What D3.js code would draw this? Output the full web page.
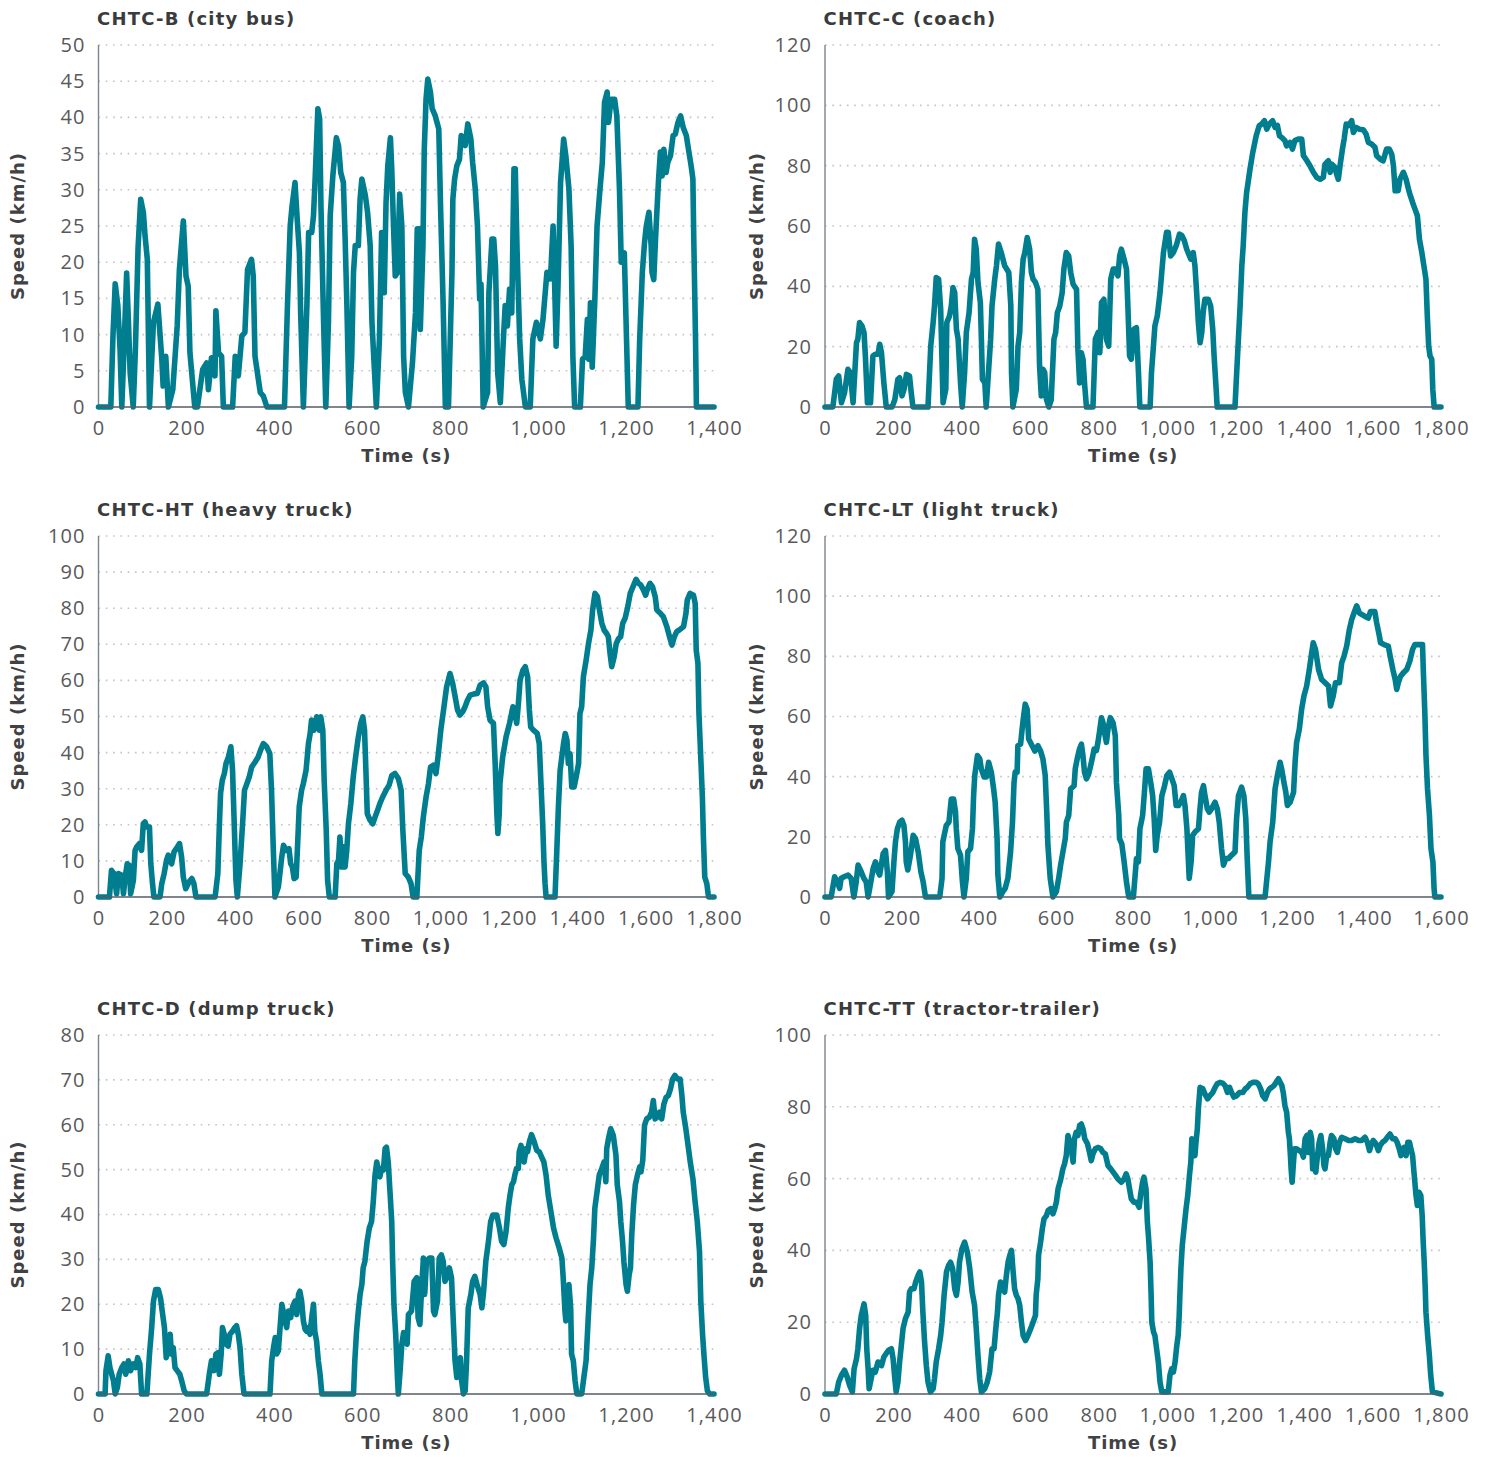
<!DOCTYPE html>
<html>
<head>
<meta charset="utf-8">
<script src="https://cdn.jsdelivr.net/npm/d3@7"></script>
<style>
  html, body { margin: 0; padding: 0; background: #ffffff; }
  svg { display: block; }
</style>
</head>
<body>
<svg id="chart" width="1486" height="1457"></svg>
<script>
// Chinese heavy-duty commercial vehicle test cycles (CHTC): speed vs time, [t (s), speed (km/h)]

const titles = [
  "CHTC-B (city bus)", "CHTC-C (coach)",
  "CHTC-HT (heavy truck)", "CHTC-LT (light truck)",
  "CHTC-D (dump truck)", "CHTC-TT (tractor-trailer)"
];

const xTickSets = [
  [0, 200, 400, 600, 800, 1000, 1200, 1400],
  [0, 200, 400, 600, 800, 1000, 1200, 1400, 1600, 1800],
  [0, 200, 400, 600, 800, 1000, 1200, 1400, 1600, 1800],
  [0, 200, 400, 600, 800, 1000, 1200, 1400, 1600],
  [0, 200, 400, 600, 800, 1000, 1200, 1400],
  [0, 200, 400, 600, 800, 1000, 1200, 1400, 1600, 1800]
];

const yTickSets = [
  [0, 5, 10, 15, 20, 25, 30, 35, 40, 45, 50],
  [0, 20, 40, 60, 80, 100, 120],
  [0, 10, 20, 30, 40, 50, 60, 70, 80, 90, 100],
  [0, 20, 40, 60, 80, 100, 120],
  [0, 10, 20, 30, 40, 50, 60, 70, 80],
  [0, 20, 40, 60, 80, 100]
];

const cityBus = [[0,0],[28,0],[33,10],[38,17],[44,14],[49,8],[53,0],[58,8],[64,18.5],[68,12],[72,4.7],[79,0],[84,8],[90,22],[96,28.7],[102,26.9],[106,23.6],[111,20.4],[116,0],[125,11.7],[135,14.2],[144,6.6],[147,2.9],[153,7],[159,0],[169,2.4],[179,11.2],[184,19],[193,25.7],[199,18.1],[204,16.7],[208,7.5],[219,0],[225,0],[237,5.2],[246,6.1],[250,2.4],[257,6.8],[265,4.3],[267,13.3],[273,7.5],[280,7],[284,0],[305,0],[311,7],[318,4.3],[326,9.8],[333,10.3],[339,19],[348,20.4],[352,18.1],[356,7],[368,2],[375,1.5],[383,0],[423,0],[430,14.4],[436,25],[440,27.6],[447,31],[452,25.9],[457,21.3],[460,12.6],[466,0],[474,14],[478,24.1],[485,24.1],[489,26.4],[493,31.9],[499,41.2],[503,39.8],[506,27.8],[512,11.7],[517,0],[523,11.7],[527,26.4],[533,31.9],[541,37.2],[546,36.1],[551,32.4],[557,31],[561,23.2],[565,14],[570,0],[576,7],[580,18.6],[584,22.3],[591,22.3],[595,28.7],[599,31.5],[607,29.2],[612,26.9],[618,22.3],[622,11.7],[632,0],[639,9.4],[644,24.1],[650,15.8],[654,28.2],[658,33.3],[664,37.2],[667,32.9],[671,25],[675,18.1],[680,18.6],[685,29.4],[690,25],[694,7],[698,2],[705,0],[714,6],[721,13],[725,24.6],[729,24.6],[732,10.7],[738,22.3],[741,35.6],[745,42.5],[749,45.3],[755,43.5],[759,41.2],[766,40.2],[774,38.4],[778,27.8],[784,14],[789,0],[796,0],[804,18.6],[806,28.7],[810,31.5],[815,33.3],[821,34.2],[825,37.5],[830,37],[834,36.1],[840,39.1],[847,37],[851,33.8],[857,30.1],[862,25],[867,14.9],[870,17],[875,0],[885,2],[888,15.8],[895,23.2],[899,23.2],[903,19.5],[908,4.7],[914,0.6],[921,9.4],[925,14],[930,11.2],[935,16.3],[940,13],[945,32.9],[948,32.9],[952,21.8],[958,9.4],[963,3.8],[971,0],[982,0],[988,9.4],[996,11.7],[1005,9.4],[1011,12.1],[1020,18.6],[1028,17.7],[1034,25],[1038,15.8],[1041,8.4],[1045,16.3],[1051,31],[1058,37],[1063,34.7],[1070,30.1],[1075,22.3],[1079,7],[1083,0],[1096,0],[1101,6.6],[1107,7],[1112,12.1],[1115,6.6],[1119,14.4],[1123,5.5],[1129,14.9],[1134,25],[1140,29.6],[1146,33.8],[1151,42.1],[1157,43.5],[1160,39.3],[1166,42.5],[1174,42.5],[1179,40.2],[1185,30.1],[1189,20],[1196,21.3],[1201,9.4],[1205,0],[1227,0],[1231,9.4],[1237,18.6],[1242,22.7],[1246,25],[1252,26.9],[1257,22.3],[1259,18.6],[1263,17.6],[1267,23.2],[1270,26.9],[1274,31.5],[1278,35.2],[1282,31.9],[1286,35.6],[1291,32.4],[1295,33.8],[1301,34.7],[1307,37.5],[1312,37.7],[1318,39.3],[1324,40.2],[1330,38.6],[1337,37.5],[1343,35.2],[1348,33.3],[1352,31.5],[1354,23.2],[1358,9.4],[1360,0],[1400,0]];

const coach = [[0,0],[23,0],[33,9.2],[40,10.3],[48,1.4],[57,4.7],[67,12.5],[74,11.4],[82,1.4],[92,21.3],[96,22.5],[101,28],[108,26.9],[114,24.7],[118,16.9],[124,1.4],[133,1.4],[140,16.9],[147,17.5],[155,17.5],[160,20.8],[165,18],[172,8],[179,0],[196,0],[204,2.4],[213,9.2],[218,9.7],[225,3.7],[231,5.9],[238,10.8],[247,10.3],[252,4.7],[257,0],[301,0],[309,20.2],[316,28],[320,33.5],[325,42.9],[332,42.4],[338,32.4],[345,1.4],[353,5.9],[356,28],[364,30.2],[369,33.5],[374,39.6],[379,37.9],[384,25.8],[389,22.5],[396,8],[401,0],[408,11.4],[413,24.7],[421,31.3],[428,42.4],[433,44.6],[437,55.6],[442,52.3],[447,41.3],[454,34.6],[457,22.5],[460,9.2],[467,8],[471,0],[484,22.5],[488,33.5],[496,42.4],[501,46.8],[507,54],[515,51.2],[525,46.8],[537,44.6],[543,33.5],[545,11.4],[549,0],[559,5.9],[564,20.2],[569,24.7],[574,41.3],[579,49],[584,51.2],[591,56.2],[598,52.3],[603,44.6],[608,42.4],[615,41.3],[622,39],[627,13.6],[632,3.7],[637,12.5],[642,11.4],[647,2.6],[654,0],[661,2.4],[669,22.5],[674,24.7],[679,31.3],[686,33.5],[693,37.9],[698,45.7],[705,51.2],[712,50.1],[718,44.6],[725,40.7],[735,39],[739,19.1],[744,8],[749,18],[754,15.8],[759,7],[764,0],[783,0],[790,22.5],[798,24.7],[803,18],[808,34.6],[815,35.7],[822,22.5],[829,20.2],[835,42.4],[842,45.7],[849,45.7],[856,43.5],[861,50.1],[866,52.3],[874,49],[881,45.7],[885,33.5],[890,16.9],[895,15.8],[903,25.8],[910,26.3],[916,11.4],[920,0],[950,0],[954,11.4],[964,26.9],[971,30.2],[979,37.9],[984,44.6],[989,51.2],[998,57.9],[1003,57.9],[1010,50.1],[1018,51.2],[1026,53.4],[1036,57.3],[1043,56.8],[1050,55.1],[1057,52.3],[1065,50.1],[1069,49],[1076,51.2],[1081,46.8],[1086,37.9],[1091,28],[1096,21.3],[1101,24.7],[1105,31.3],[1110,35.7],[1120,35.7],[1127,33.5],[1133,25.8],[1137,16.9],[1143,5.9],[1146,0],[1198,0],[1203,11.4],[1208,22.5],[1213,33.5],[1218,46.8],[1222,53.4],[1227,64.5],[1232,71.1],[1242,78.9],[1250,84.4],[1260,89.9],[1269,93.3],[1276,93.8],[1284,94.9],[1291,92.1],[1298,93.8],[1308,94.9],[1315,92.7],[1322,93.3],[1328,89.9],[1335,89.3],[1344,88.3],[1349,86.6],[1359,87.7],[1366,85.5],[1373,88.3],[1383,88.8],[1393,88.8],[1398,83.3],[1405,82.2],[1417,80],[1427,77.8],[1437,76.1],[1447,75.5],[1456,76.1],[1461,80.5],[1471,81.6],[1476,77.8],[1481,80.5],[1490,79.4],[1495,77.2],[1500,75.5],[1505,80],[1512,85.5],[1517,88.8],[1523,93.8],[1530,93.3],[1539,94.9],[1544,91],[1552,92.7],[1561,92.1],[1573,91.9],[1581,90.5],[1588,87.7],[1597,87.2],[1607,86.1],[1612,83.3],[1622,82.2],[1631,81.6],[1641,85.5],[1649,85.5],[1656,83.8],[1661,80],[1666,71.7],[1675,71.7],[1680,75.5],[1690,77.8],[1698,75.5],[1705,72.2],[1709,70.6],[1717,67.8],[1724,65.6],[1731,63.4],[1737,55.6],[1744,51.2],[1750,46.8],[1756,42.4],[1760,30.2],[1764,20.2],[1768,16.9],[1773,15.8],[1776,5.9],[1780,0],[1800,0]];

const heavyTruck = [[0,0],[32,0],[38,7.4],[45,6.5],[53,0.9],[58,6.5],[68,6],[73,0.9],[78,5.5],[84,9.2],[90,8.8],[94,0.9],[102,4.6],[107,12.9],[112,13.9],[120,14.8],[126,12.9],[131,20.3],[136,20.8],[141,19.4],[149,19.4],[153,9.2],[158,3.7],[162,0],[180,0],[185,3.7],[192,6.5],[199,10.2],[204,11.6],[214,9.2],[221,12.5],[231,13.9],[237,14.8],[243,11.1],[248,5.5],[255,2.3],[265,4.2],[273,5.1],[279,3.7],[285,0],[341,0],[349,6.5],[353,18.5],[357,28.7],[362,32.3],[368,34.2],[373,37],[380,38.8],[387,41.6],[392,35.1],[396,23.1],[402,4.6],[406,0],[414,9.2],[422,21.3],[427,29.6],[434,31.4],[441,33.3],[448,36],[458,37.4],[467,38.8],[474,40.7],[482,42.5],[492,41.6],[501,39.7],[506,29.6],[511,13.9],[516,0],[526,2.8],[536,11.1],[541,14.3],[550,12.9],[557,13.4],[562,9.2],[567,8.3],[572,5.1],[578,5.5],[582,13.9],[587,25],[594,29.6],[599,31.4],[607,35.1],[614,42.5],[619,45.3],[623,49],[630,46.2],[638,49.9],[646,46.2],[650,49.9],[656,46.2],[660,32.3],[666,18.5],[670,4.6],[675,0],[692,0],[697,9.2],[702,10.2],[706,16.6],[711,8.3],[716,13.9],[721,8.3],[726,12.9],[731,20.3],[738,25.9],[745,33.3],[752,38.8],[760,44.4],[767,48.1],[773,49.9],[778,46.2],[782,35.1],[786,23.1],[794,21.3],[802,20.3],[809,22.2],[816,24],[823,25.9],[831,27.7],[841,29.6],[850,31],[858,33.7],[867,34.2],[877,32.8],[885,29.6],[890,18.5],[897,6.5],[906,5.5],[914,3.7],[920,0],[931,0],[938,12.9],[944,16.6],[950,22.2],[958,27.7],[965,31.4],[971,36],[979,36.5],[987,34.2],[994,39.7],[1001,46.2],[1009,51.8],[1018,58.2],[1028,61.9],[1036,59.1],[1043,55.5],[1050,51.8],[1057,50.4],[1065,51.3],[1072,52.7],[1079,54.5],[1087,55.9],[1097,56.2],[1108,56.4],[1116,58.7],[1126,59.3],[1133,58.2],[1138,52.7],[1145,49],[1155,48.1],[1160,37],[1165,23.1],[1168,17.6],[1172,23.1],[1174,31.4],[1182,38.8],[1192,44.4],[1202,48.1],[1212,52.7],[1218,50.8],[1223,48.1],[1228,53.6],[1233,60.1],[1241,62.8],[1248,63.8],[1255,61],[1260,51.8],[1264,47.1],[1272,46.2],[1283,45.3],[1289,42.5],[1294,31.4],[1299,20.3],[1303,9.2],[1306,3.7],[1309,0],[1335,0],[1340,12],[1345,25],[1350,35.1],[1355,38.8],[1360,42.5],[1365,45.3],[1370,43.4],[1374,37],[1379,39.7],[1384,30.5],[1391,30.5],[1397,33.3],[1404,37],[1408,50.8],[1413,52.7],[1418,61],[1426,65.6],[1433,70.2],[1440,73.9],[1445,79.5],[1452,84.1],[1459,83.2],[1465,79.5],[1472,75.8],[1479,73.9],[1486,73],[1491,72.1],[1496,67.5],[1501,63.8],[1508,66.5],[1514,70.2],[1521,71.6],[1527,72.1],[1533,75.8],[1540,77.2],[1547,80],[1555,84.1],[1565,86.4],[1572,88],[1579,86.9],[1586,86.4],[1594,85],[1600,83.6],[1606,85.5],[1613,86.9],[1620,86],[1628,83.2],[1633,79.5],[1643,78.6],[1652,77.6],[1662,74.9],[1670,72.1],[1677,69.8],[1684,72.1],[1691,73.5],[1699,74],[1711,74.9],[1718,78.6],[1722,82.3],[1730,84.1],[1740,83.6],[1745,81.3],[1748,68.4],[1753,64.7],[1756,50.8],[1762,37],[1766,27.7],[1769,16.6],[1773,5.5],[1779,3.7],[1784,0],[1800,0]];

const lightTruck = [[0,0],[16,0],[25,6.7],[32,5],[38,2.9],[42,6.2],[51,6.8],[60,7.3],[68,6.2],[75,0],[81,5],[86,10.6],[94,8.4],[101,6.2],[107,5],[112,0],[119,5],[125,9.5],[131,11.7],[138,8.4],[142,7.3],[151,14.4],[157,15.5],[162,8.4],[165,0],[174,1.8],[179,11.7],[183,18.3],[188,22.7],[194,24.9],[200,25.5],[205,23.8],[209,18.3],[211,11.7],[215,9],[222,13.9],[229,20.5],[235,19.4],[242,15],[249,8.4],[255,5],[261,0],[298,0],[304,6.2],[306,18.3],[315,23.8],[322,24.9],[328,32.6],[334,32.6],[339,28.2],[341,22.7],[345,16.1],[352,13.9],[357,5],[361,0],[367,6.2],[371,15],[378,16.1],[383,22.7],[386,33.7],[389,40.4],[396,47],[402,45.9],[406,42.6],[413,39.9],[419,39.9],[425,44.8],[432,41.5],[438,35.9],[442,31.5],[447,19.4],[449,7.3],[454,0],[462,1.8],[468,2.9],[475,6.2],[482,15],[487,24.9],[491,38.1],[494,41.5],[499,41.5],[501,50.3],[508,50.8],[512,55.8],[516,60.2],[520,64.1],[525,62.4],[529,52.5],[538,50.3],[545,48.5],[553,50.3],[560,48.5],[566,45.9],[572,40.4],[576,28.2],[579,17.2],[585,6.2],[592,0],[601,1.8],[607,6.2],[612,10.6],[618,15],[624,19.4],[627,24.9],[633,27.1],[638,35.9],[647,37],[650,42.6],[655,45.9],[661,49.2],[666,50.8],[670,47],[674,41.5],[679,39.3],[685,40.9],[690,43.7],[694,45.9],[699,49.2],[705,48.7],[709,51.4],[714,55.8],[718,59.6],[722,58],[726,54.7],[731,51.4],[735,55.8],[741,59.6],[748,58],[754,53.6],[757,38.1],[763,27.1],[765,19.4],[771,17.6],[777,11.7],[783,5],[789,0],[801,0],[809,12.8],[814,11.7],[818,22.7],[825,27.1],[829,33.7],[834,42.6],[840,42.6],[846,38.1],[851,33.7],[855,26],[859,15.5],[863,20.5],[869,24.9],[875,33.7],[882,37],[888,40.4],[895,41.5],[901,39.3],[907,37],[912,30.4],[918,30.4],[924,31.5],[931,33.7],[935,30.4],[940,22.7],[944,11.7],[946,6.2],[951,11.7],[955,20.5],[961,21.6],[970,22.7],[974,29.3],[978,34.8],[983,37],[987,33.7],[993,29.3],[998,28.2],[1004,29.3],[1013,31.5],[1019,29.3],[1024,24.9],[1030,16.1],[1035,10.6],[1041,12.8],[1048,12.8],[1056,13.9],[1065,15],[1069,26],[1074,33.7],[1082,36.5],[1088,33.7],[1093,26],[1097,11.7],[1101,0],[1143,0],[1152,11.7],[1156,18.3],[1163,24.9],[1169,35.9],[1175,40.4],[1182,44.8],[1186,42.6],[1192,38.1],[1197,34.8],[1201,30.4],[1208,31.5],[1217,34.8],[1221,44.8],[1225,51.4],[1232,55.8],[1238,62.4],[1244,66.8],[1251,70.1],[1258,75.6],[1264,81.1],[1268,84.5],[1274,82.3],[1282,75.6],[1290,72.3],[1299,71.2],[1308,70.1],[1313,63.5],[1320,66.8],[1326,71.2],[1336,71.2],[1342,77.8],[1348,80],[1355,83.4],[1362,88.9],[1368,92.2],[1374,94.4],[1381,96.8],[1388,94.4],[1396,93.8],[1405,93.1],[1411,92.7],[1417,94.9],[1428,94.9],[1433,91.1],[1440,86.7],[1443,84.5],[1452,83.9],[1463,83.4],[1468,80],[1475,75.6],[1481,72.3],[1485,69],[1489,71.2],[1495,73.4],[1502,74.5],[1511,75.6],[1519,78.4],[1526,82.2],[1532,83.9],[1541,83.9],[1552,83.9],[1554,75.6],[1558,61.3],[1561,47],[1565,35.9],[1570,27.1],[1574,16.1],[1579,11.7],[1582,2.9],[1584,0],[1600,0]];

const dumpTruck = [[0,0],[15,0],[17,5.2],[22,8.5],[26,5.9],[30,4.4],[34,3],[38,0],[43,1.5],[47,4.4],[53,5.9],[58,6.7],[62,4.4],[68,7.4],[73,5.2],[79,6.7],[85,5.9],[89,8.1],[94,6.7],[98,0],[110,0],[116,8.9],[121,14.8],[125,20.7],[130,23.3],[136,23.3],[141,21.4],[146,17.7],[150,14.8],[154,8.1],[159,10.3],[163,13.3],[166,8.9],[170,10.3],[174,5.9],[179,5.2],[185,4.4],[189,3],[195,0.7],[200,0],[246,0],[252,4.4],[257,7.4],[263,5.2],[267,8.9],[272,9.2],[275,4.4],[279,8.9],[282,14.8],[286,13.3],[290,11.1],[295,10.7],[299,13.3],[305,14],[310,14.8],[314,15.2],[318,13.3],[322,10.3],[326,4.4],[331,0],[390,0],[394,7.4],[398,10.3],[402,12.6],[405,8.9],[409,9.6],[413,14.8],[417,20],[420,18.5],[424,16.3],[428,14.8],[432,18.5],[437,17],[442,19.6],[447,20.7],[451,17.7],[455,22.2],[458,22.9],[462,20.7],[466,16.3],[470,14.4],[473,14],[477,14.8],[481,13.3],[485,17],[489,20],[492,14],[496,11.8],[500,7.4],[504,4.4],[508,0],[580,0],[583,7.4],[587,14],[591,18.5],[595,22.2],[599,24.4],[602,28.1],[606,29.6],[611,34],[616,37],[621,38.4],[625,42.9],[629,48.8],[633,51.7],[637,49.5],[640,48.4],[644,50.3],[648,49.9],[652,54.7],[655,55],[659,51.7],[663,45.1],[667,38.4],[669,29.6],[672,20],[676,13.3],[680,3.7],[682,0],[686,5.2],[690,11.1],[694,13.7],[698,11.8],[702,11.1],[705,17.7],[712,18.5],[718,25.1],[724,25.9],[727,17],[731,15.5],[735,23.7],[739,30.3],[742,22.2],[746,29.6],[753,30.3],[758,30.3],[762,18.5],[765,17.7],[771,20.7],[775,30.3],[780,31],[784,29.6],[788,25.1],[792,25.9],[798,28.1],[803,25.9],[807,16.3],[811,7.4],[815,3.7],[819,7.4],[823,8.1],[826,3],[830,0],[834,0.7],[837,6.7],[841,19.2],[847,22.2],[851,25.1],[856,26.2],[861,24.4],[868,22.2],[872,19.2],[876,22.9],[881,29.6],[887,34],[892,38.4],[897,39.9],[906,39.9],[912,37],[917,34],[922,33.3],[927,36.2],[932,41.4],[936,44.3],[940,46.6],[944,47.3],[947,48.8],[951,50.3],[955,50.3],[957,54],[961,55.4],[965,53.2],[968,51.7],[973,54.7],[976,54],[980,56.2],[985,57.8],[991,56.2],[997,54.3],[1003,53.9],[1008,52.8],[1013,51.7],[1018,48.8],[1023,44.3],[1029,40.7],[1035,37],[1041,34.7],[1048,32.5],[1054,30.3],[1057,25.9],[1061,18.5],[1063,16.3],[1066,20],[1070,24.4],[1074,19.2],[1076,8.9],[1080,7.4],[1084,3],[1088,0],[1099,0],[1104,3.7],[1109,7.4],[1114,17],[1118,24.4],[1122,28.1],[1126,34.7],[1129,41.4],[1135,45.8],[1139,48.8],[1145,50.3],[1150,51.7],[1154,47.3],[1156,54.7],[1160,56.9],[1165,59.1],[1171,57.6],[1177,53.2],[1180,46.6],[1185,42.9],[1188,38.4],[1192,34],[1195,29.6],[1200,24.4],[1203,22.9],[1207,26.6],[1210,28.1],[1213,35.5],[1217,42.1],[1221,46.6],[1226,48.8],[1231,50.6],[1234,49.5],[1238,52.1],[1242,59.9],[1247,61.3],[1253,61.7],[1258,62.8],[1262,65.4],[1266,61.3],[1271,61.7],[1276,62.8],[1281,61.3],[1286,64.6],[1291,66.1],[1296,66.5],[1301,68],[1306,70.2],[1311,71],[1317,70.2],[1323,70.2],[1327,66.5],[1330,62.8],[1336,59.1],[1342,54.7],[1346,51.7],[1352,48],[1357,42.9],[1362,38.4],[1367,31.8],[1370,20.7],[1374,13.3],[1377,8.9],[1381,3.7],[1385,0.7],[1390,0],[1400,0]];

const tractorTrailer = [[0,0],[33,0],[40,3.3],[48,5.2],[57,6.6],[65,4.7],[72,2.4],[80,0.6],[85,7],[92,9.8],[96,12.6],[101,18.2],[106,21.9],[114,25.1],[119,21.9],[122,12.6],[126,7],[129,1.5],[135,4.3],[140,6.6],[147,6.1],[155,8.9],[165,7.9],[172,10.3],[179,11.3],[186,12.2],[194,12.6],[199,9.8],[204,4.3],[208,0.6],[213,3.3],[218,8.9],[223,13.5],[228,18.2],[235,21],[243,22.8],[247,28.4],[252,29.3],[260,29.3],[265,31.2],[272,33],[277,34],[282,31.2],[286,22.8],[291,14.5],[296,8],[301,3.3],[308,0.6],[316,1.5],[320,4.3],[325,8.9],[332,12.6],[338,16.3],[342,20],[348,27.5],[355,34],[361,35.8],[367,36.7],[373,34.9],[379,29.3],[384,27.5],[389,31.2],[393,36.7],[400,40.4],[408,42.3],[416,39.5],[423,34.9],[430,28.4],[437,24.7],[442,18.2],[447,10.8],[452,4.3],[457,0.6],[467,1.5],[474,3.3],[481,6.1],[488,12.6],[494,12.6],[499,18.2],[504,22.8],[507,27.5],[513,31.2],[518,30.3],[525,28.4],[530,33],[535,36.7],[540,38.6],[545,40],[549,34.9],[554,29.3],[559,27.5],[564,26.6],[569,24.7],[574,20],[579,16.3],[586,14.9],[593,16.3],[601,18.2],[608,20],[615,21.9],[617,27.5],[622,32.1],[624,38.6],[630,42.3],[635,46],[640,48.8],[647,49.7],[652,51.1],[659,51.6],[666,50.2],[671,51.6],[676,53.4],[681,57.1],[689,59.9],[695,62.7],[700,64.1],[705,66.4],[710,72],[715,70.1],[720,68.3],[725,64.6],[729,71.1],[734,72.9],[739,72],[744,74.8],[749,75.2],[754,73.8],[759,71.1],[767,69.7],[773,67.3],[778,65],[783,66.9],[790,68.3],[798,68.7],[806,68.3],[812,67.3],[819,66.9],[827,63.6],[835,62.7],[842,61.8],[849,60.9],[856,59.9],[866,59],[874,59.9],[880,61.3],[885,59.9],[890,57.1],[895,54.4],[903,53.4],[911,53.4],[918,52],[922,55.3],[928,59],[932,60.4],[938,57.1],[942,47.9],[945,44.2],[950,36.7],[953,27.5],[955,20],[960,17.3],[964,16.3],[969,12.6],[974,8.9],[979,3.3],[984,0.6],[1003,0.6],[1008,5.2],[1013,7],[1018,6.1],[1023,8.9],[1028,13.5],[1032,16.3],[1035,21.9],[1037,27.5],[1040,34.9],[1044,41.4],[1049,46],[1055,51.6],[1060,55.3],[1065,60.9],[1069,64.6],[1072,71.1],[1077,70.1],[1081,66.4],[1084,70.1],[1088,73.8],[1091,79.4],[1096,85.4],[1104,85],[1110,83.6],[1118,82.2],[1125,83.1],[1133,84],[1140,85.4],[1146,86.4],[1154,86.8],[1162,86.6],[1169,85.9],[1176,84],[1182,85.4],[1188,84],[1195,82.7],[1203,83.1],[1211,84],[1221,84],[1228,85],[1234,85.4],[1242,86.4],[1250,86.8],[1260,86.8],[1266,86.4],[1273,85],[1279,83.1],[1286,82.2],[1293,84],[1299,85],[1305,85.4],[1312,85.9],[1318,86.8],[1325,87.8],[1330,86.8],[1335,85.9],[1339,84],[1344,80.3],[1349,78.5],[1354,72.9],[1357,71.1],[1360,66.4],[1362,62.7],[1365,59],[1369,64.6],[1372,68.3],[1378,68.3],[1386,67.8],[1393,67.3],[1398,66],[1403,71.1],[1408,72],[1413,67.3],[1418,72.9],[1422,71.1],[1425,62.7],[1430,66.4],[1434,61.8],[1439,66.4],[1444,70.1],[1449,72],[1454,68.3],[1458,63.6],[1461,62.7],[1466,66.4],[1471,66.4],[1476,70.1],[1480,72],[1487,71.1],[1492,68.3],[1497,67.3],[1503,70.1],[1510,71.5],[1520,71.1],[1530,70.6],[1539,70.6],[1549,71.1],[1559,70.6],[1568,70.6],[1578,71.5],[1585,70.1],[1591,67.8],[1597,69.7],[1602,70.6],[1610,69.7],[1617,67.8],[1622,69.2],[1629,70.1],[1636,70.6],[1643,71.5],[1651,72.4],[1659,71.1],[1666,71.1],[1672,70.1],[1678,68.3],[1683,66.4],[1688,68.3],[1692,68.7],[1698,66.4],[1703,70.1],[1708,70.1],[1712,68.3],[1717,66.4],[1721,61.8],[1727,55.3],[1731,52.5],[1736,56.2],[1741,55.3],[1745,49.7],[1748,42.3],[1751,36.7],[1754,29.3],[1756,22.8],[1761,16.3],[1766,10.8],[1770,5.2],[1775,0.6],[1800,0]];

const cycles = [cityBus, coach, heavyTruck, lightTruck, dumpTruck, tractorTrailer];

// ---- layout ----
const columns = [{ left: 98.5, right: 714, yTitleX: 18 }, { left: 825, right: 1441, yTitleX: 757 }];
const rows = [{ top: 45, bottom: 407 }, { top: 536, bottom: 897 }, { top: 1035, bottom: 1394 }];

const LINE_COLOR = "#007e8f";
const TICK_FONT = "'Open Sans', sans-serif";
const BOLD_FONT = "'DejaVu Sans', 'Open Sans', sans-serif";
const fmt = d3.format(",");

const svg = d3.select("#chart");
svg.append("rect").attr("width", 1486).attr("height", 1457).attr("fill", "#ffffff");

cycles.forEach((series, i) => {
  const col = columns[i % 2];
  const row = rows[Math.floor(i / 2)];
  const xTicks = xTickSets[i];
  const yTicks = yTickSets[i];

  const x = d3.scaleLinear()
    .domain([0, xTicks[xTicks.length - 1]])
    .range([col.left, col.right]);
  const y = d3.scaleLinear()
    .domain([0, yTicks[yTicks.length - 1]])
    .range([row.bottom, row.top]);

  const g = svg.append("g");

  // dotted horizontal gridlines
  g.append("g")
    .selectAll("line")
    .data(yTicks.filter(v => v > 0))
    .join("line")
    .attr("x1", col.left)
    .attr("x2", col.right)
    .attr("y1", d => y(d))
    .attr("y2", d => y(d))
    .attr("stroke", "#c4c4c4")
    .attr("stroke-width", 1.6)
    .attr("stroke-dasharray", "1.6 5.7");

  // y axis: labels only, plus a plain vertical rule
  const yAxis = d3.axisLeft(y).tickValues(yTicks).tickSize(0).tickPadding(13).tickFormat(fmt);
  const yg = g.append("g").attr("transform", `translate(${col.left},0)`).call(yAxis);
  yg.select(".domain").remove();
  yg.selectAll("text")
    .attr("font-family", TICK_FONT)
    .attr("font-size", 20)
    .attr("letter-spacing", 1.1)
    .attr("fill", "#58595b");

  g.append("line")
    .attr("x1", col.left).attr("x2", col.left)
    .attr("y1", row.top).attr("y2", row.bottom)
    .attr("stroke", "#7d848c").attr("stroke-width", 1.4);

  // x axis
  const xAxis = d3.axisBottom(x).tickValues(xTicks).tickSize(0).tickPadding(14).tickFormat(fmt);
  const xg = g.append("g").attr("transform", `translate(0,${row.bottom})`).call(xAxis);
  xg.select(".domain").remove();
  xg.selectAll("text")
    .attr("font-family", TICK_FONT)
    .attr("font-size", 20)
    .attr("letter-spacing", 1.1)
    .attr("fill", "#58595b");

  // speed trace
  const line = d3.line()
    .x(d => x(d[0]))
    .y(d => y(d[1]));

  g.append("path")
    .datum(series)
    .attr("d", line)
    .attr("fill", "none")
    .attr("stroke", LINE_COLOR)
    .attr("stroke-width", 5.6)
    .attr("stroke-linejoin", "round")
    .attr("stroke-linecap", "round");

  // baseline drawn over the trace foot
  g.append("line")
    .attr("x1", col.left).attr("x2", col.right)
    .attr("y1", row.bottom).attr("y2", row.bottom)
    .attr("stroke", "#565d66").attr("stroke-width", 1.6);

  // panel title
  g.append("text")
    .attr("x", col.left - 1.5)
    .attr("y", row.top - 20)
    .attr("font-family", BOLD_FONT)
    .attr("font-weight", 700)
    .attr("font-size", 18)
    .attr("letter-spacing", 1.2)
    .attr("fill", "#3a3b3d")
    .text(titles[i]);

  // axis titles
  g.append("text")
    .attr("x", (col.left + col.right) / 2)
    .attr("y", row.bottom + 55)
    .attr("text-anchor", "middle")
    .attr("font-family", BOLD_FONT)
    .attr("font-weight", 700)
    .attr("font-size", 18)
    .attr("letter-spacing", 0.9)
    .attr("fill", "#414244")
    .text("Time (s)");

  g.append("text")
    .attr("transform", `translate(${col.yTitleX},${(row.top + row.bottom) / 2}) rotate(-90)`)
    .attr("text-anchor", "middle")
    .attr("dy", "0.35em")
    .attr("font-family", BOLD_FONT)
    .attr("font-weight", 700)
    .attr("font-size", 18)
    .attr("letter-spacing", 1)
    .attr("fill", "#414244")
    .text("Speed (km/h)");
});
</script>
</body>
</html>
